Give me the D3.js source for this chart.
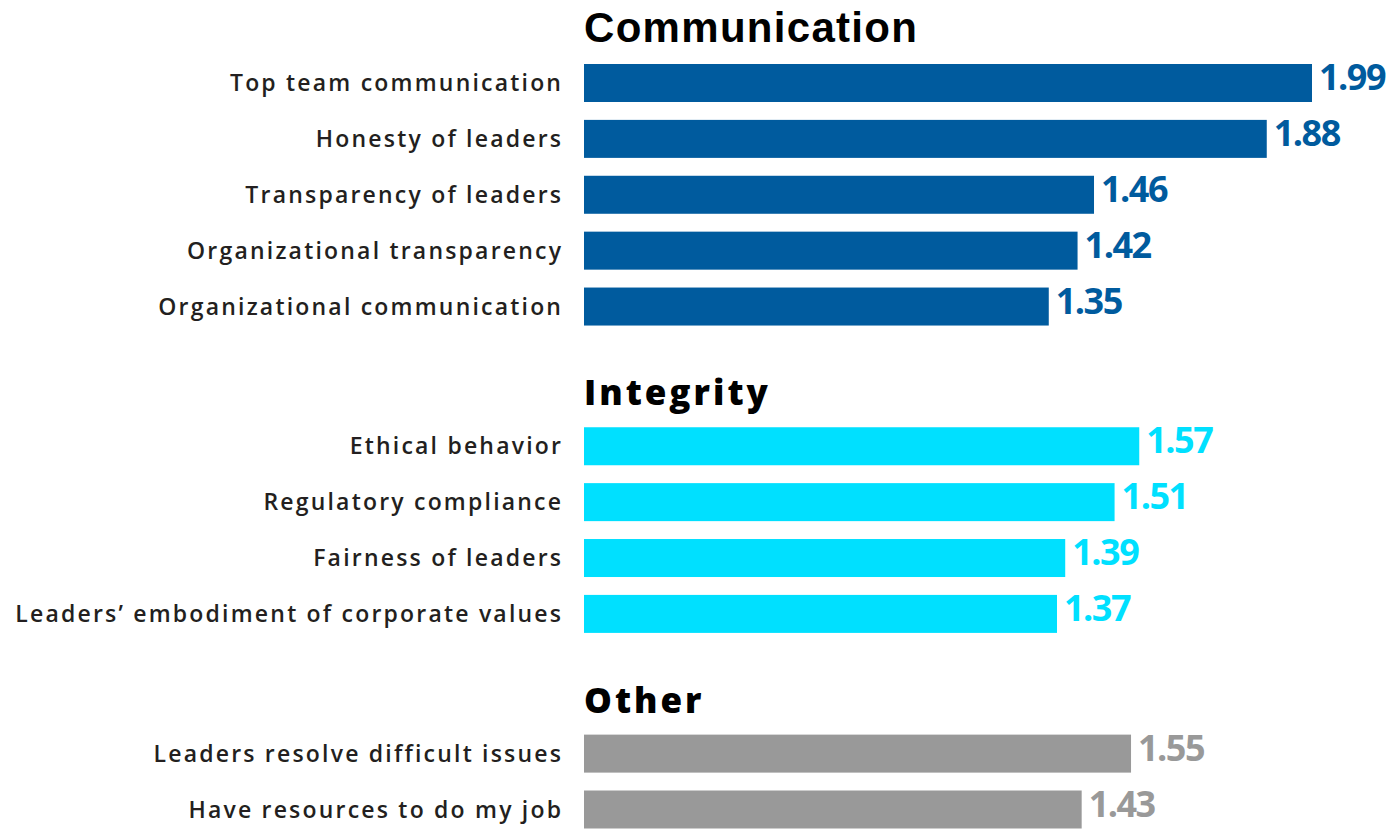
<!DOCTYPE html>
<html>
<head>
<meta charset="utf-8">
<script src="https://cdn.jsdelivr.net/npm/d3@7"></script>
<style>
  html, body { margin: 0; padding: 0; background: #fff; }
  svg { display: block; }
</style>
</head>
<body>
<svg id="chart" width="1400" height="833"></svg>
<script>
// ---- data ----
const groups = ["Communication", "Integrity", "Other"];
const communicationLabels = ["Top team communication", "Honesty of leaders", "Transparency of leaders", "Organizational transparency", "Organizational communication"];
const communicationValues = [1.99, 1.88, 1.46, 1.42, 1.35];
const integrityLabels = ["Ethical behavior", "Regulatory compliance", "Fairness of leaders", "Leaders\u2019 embodiment of corporate values"];
const integrityValues = [1.57, 1.51, 1.39, 1.37];
const otherLabels = ["Leaders resolve difficult issues", "Have resources to do my job"];
const otherValues = [1.55, 1.43];
const groupColors = ["#005b9e", "#00e0ff", "#999999"];

// ---- build rows ----
const groupLabels = [communicationLabels, integrityLabels, otherLabels];
const groupValues = [communicationValues, integrityValues, otherValues];
const groupStartSlot = [0, 6.5, 12];
const rows = [];
groups.forEach((g, gi) => {
  groupLabels[gi].forEach((lab, i) => {
    rows.push({ group: g, gi, label: lab, value: groupValues[gi][i], slot: groupStartSlot[gi] + i });
  });
});

const svg = d3.select("#chart");
const x = d3.scaleLinear().domain([0.22, 1.99]).range([584, 1312]);
const y = d3.scaleLinear().domain([0, 13]).range([64, 790.5]);
const barH = 38;
const labelLS = 2.2;

// group titles
svg.selectAll("text.title").data(groups).join("text")
  .attr("class", "title")
  .attr("x", 584)
  .attr("y", (d, i) => y(groupStartSlot[i]) - 22)
  .attr("font-family", (d, i) => i === 0 ? "Liberation Sans, Arial, sans-serif" : "Open Sans, sans-serif")
  .attr("font-weight", (d, i) => i === 0 ? 700 : 800)
  .attr("font-size", (d, i) => i === 0 ? 42 : 35)
  .attr("letter-spacing", (d, i) => i === 0 ? 1.3 : 3.0)
  .attr("fill", "#000")
  .text(d => d);

// bars
svg.selectAll("rect.bar").data(rows).join("rect")
  .attr("class", "bar")
  .attr("x", x.range()[0])
  .attr("y", d => y(d.slot))
  .attr("width", d => x(d.value) - x.range()[0])
  .attr("height", barH)
  .attr("fill", d => groupColors[d.gi]);

// category labels
svg.selectAll("text.label").data(rows).join("text")
  .attr("class", "label")
  .attr("x", 561 + labelLS)
  .attr("y", d => y(d.slot) + barH / 2 + 8)
  .attr("text-anchor", "end")
  .attr("font-family", "Open Sans, sans-serif")
  .attr("font-weight", 600)
  .attr("font-size", 23)
  .attr("letter-spacing", labelLS)
  .attr("fill", "#231f20")
  .text(d => d.label);

// value labels
svg.selectAll("text.value").data(rows).join("text")
  .attr("class", "value")
  .attr("x", d => x(d.value) + 7)
  .attr("y", d => y(d.slot) + barH / 2 + 7)
  .attr("font-family", "Open Sans, sans-serif")
  .attr("font-weight", 700)
  .attr("font-size", 36)
  .attr("letter-spacing", -1.5)
  .attr("fill", d => groupColors[d.gi])
  .text(d => d.value.toFixed(2));
</script>
</body>
</html>
